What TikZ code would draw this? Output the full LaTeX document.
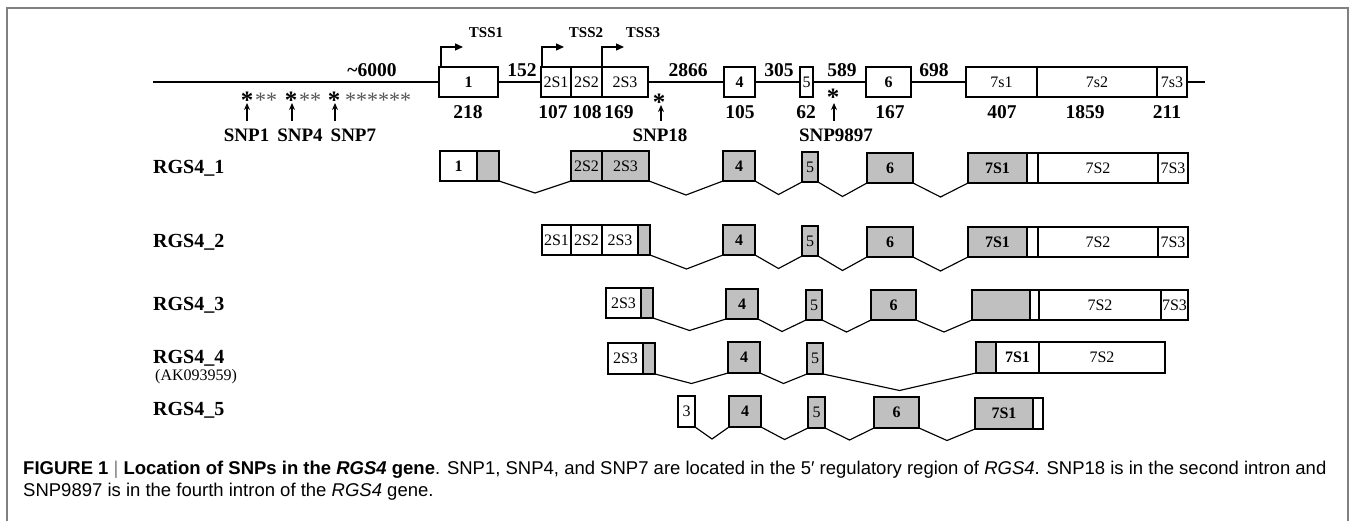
\documentclass[tikz,border=0pt]{standalone}
\usepackage{fontspec}
\setmainfont{Liberation Serif}
\newfontfamily\capfont{Liberation Sans}
\usetikzlibrary{arrows.meta,calc}
\definecolor{exgray}{RGB}{192,192,192}
\definecolor{framegray}{RGB}{128,128,128}
\definecolor{astgray}{RGB}{85,85,85}
\newcommand\ex[7]{\node[exbox,fill=#6,minimum width={#3-#2},minimum height={#5-#4}] (#1) at ({(#2+#3)/2},{(#4+#5)/2}) {#7};}
\newcommand\intr[3]{\draw[il] (#1.south east) -- ($(#1.south east)!0.5!(#2.south west)+(0,#3)$) -- (#2.south west);}
\begin{document}
\begin{tikzpicture}[x=1pt,y=-1pt,
  exbox/.style={draw,line width=1.3pt,inner sep=0pt,outer sep=0pt,font=\fontsize{16}{18}\selectfont},
  gl/.style={line width=1.3pt},
  il/.style={line width=1.15pt},
  num/.style={font=\fontsize{19.5}{22}\selectfont\bfseries,inner sep=0pt,anchor=base},
  lab/.style={font=\fontsize{20}{22}\selectfont\bfseries,inner sep=0pt,anchor=west},
  snplab/.style={font=\fontsize{19}{22}\selectfont\bfseries,inner sep=0pt},
  tsslab/.style={font=\fontsize{15}{18}\selectfont\bfseries,inner sep=0pt},
  astb/.style={font=\fontsize{25}{25}\selectfont\bfseries,inner sep=0pt,anchor=base},
  astg/.style={font=\fontsize{22}{22}\selectfont,text=astgray,inner sep=0pt,anchor=base},
  snparrow/.style={line width=1.6pt,-{Stealth[length=7pt,width=6pt]}},
  tss/.style={line width=1.3pt,-{Triangle[length=8pt,width=7pt]}},
  capt/.style={font=\capfont\fontsize{18.5}{20}\selectfont,inner sep=0pt,anchor=base west}
]
\useasboundingbox (0,0) rectangle (1356,521);
\draw[framegray,line width=1.5pt] (7,521) -- (7,8) -- (1348,8) -- (1348,521);

% ---------- gene ----------
\ex{g1}{439}{498}{67}{97}{white}{\textbf{1}}
\ex{g2a}{541}{571}{67}{97}{white}{2S1}
\ex{g2b}{571}{602}{67}{97}{white}{2S2}
\ex{g2c}{602}{648}{67}{97}{white}{2S3}
\ex{g4}{724}{755}{67}{97}{white}{\textbf{4}}
\ex{g5}{800}{813}{67}{97}{white}{5}
\ex{g6}{866}{911}{67}{97}{white}{\textbf{6}}
\ex{g7a}{966}{1037}{67}{97}{white}{7s1}
\ex{g7b}{1037}{1157}{67}{97}{white}{7s2}
\ex{g7c}{1157}{1187}{67}{97}{white}{7s3}
\coordinate (gs) at (153,82);
\coordinate (ge) at (1205,82);
\draw[gl] (gs) -- (g1.west);
\draw[gl] (g1.east) -- (g2a.west);
\draw[gl] (g2c.east) -- (g4.west);
\draw[gl] (g4.east) -- (g5.west);
\draw[gl] (g5.east) -- (g6.west);
\draw[gl] (g6.east) -- (g7a.west);
\draw[gl] (g7c.east) -- (ge);

\node[num] (n6000) at (372,77) {\textasciitilde6000};
\node[num] (n152) at (522,77) {152};
\node[num] (n2866) at (688,77) {2866};
\node[num] (n305) at (779,77) {305};
\node[num] (n589) at (842,77) {589};
\node[num] (n698) at (934,77) {698};

\node[num] (l218) at (468,119) {218};
\node[num] (l107) at (553,119) {107};
\node[num] (l108) at (587,119) {108};
\node[num] (l169) at (619,119) {169};
\node[num] (l105) at (740,119) {105};
\node[num] (l62) at (806,119) {62};
\node[num] (l167) at (890,119) {167};
\node[num] (l407) at (1002,119) {407};
\node[num] (l1859) at (1085,119) {1859};
\node[num] (l211) at (1167,119) {211};

% TSS
\draw[tss] ([xshift=2pt]g1.north west) -- ++(0,-20) -- ++(22,0);
\draw[tss] ([xshift=1pt]g2a.north west) -- ++(0,-20) -- ++(22,0);
\draw[tss] (g2c.north west) -- ++(0,-20) -- ++(22,0);
\node[tsslab] (t1) at (486,33) {TSS1};
\node[tsslab] (t2) at (586,33) {TSS2};
\node[tsslab] (t3) at (643,33) {TSS3};

% SNPs
\node[astb] (s1) at (247,109) {*};
\node[astb] (s4) at (291,109) {*};
\node[astb] (s7) at (334,109) {*};
\node[astg] (ga) at (266,108) {**};
\node[astg] (gb) at (310,108) {**};
\node[astg] (gc) at (378,108) {******};
\node[astb] (s18) at (659,111) {*};
\node[astb] (s98) at (833,106) {*};
\coordinate (a1) at (247,121);
\coordinate (a4) at (292,121);
\coordinate (a7) at (335,121);
\coordinate (a18) at (661,121);
\coordinate (a98) at (834,121);
\draw[snparrow] (a1) -- (a1 |- 0,103);
\draw[snparrow] (a4) -- (a4 |- 0,103);
\draw[snparrow] (a7) -- (a7 |- 0,103);
\draw[snparrow] (a18) -- (a18 |- 0,105);
\draw[snparrow] (a98) -- (a98 |- 0,103);
\node[snplab] (snpA) at (300,135) {SNP1\hspace{8pt}SNP4\hspace{8pt}SNP7};
\node[snplab] (snp18) at (660,135) {SNP18};
\node[snplab] (snp98) at (836,135) {SNP9897};

% ---------- transcripts ----------
\node[lab] (R1) at (153,168) {RGS4\_1};
\node[lab] (R2) at (153,242) {RGS4\_2};
\node[lab] (R3) at (153,305) {RGS4\_3};
\node[lab] (R4) at (153,358) {RGS4\_4};
\node[font=\fontsize{16}{18}\selectfont,inner sep=0pt,anchor=west] (R4b) at (155,377) {(AK093959)};
\node[lab] (R5) at (153,410) {RGS4\_5};

% row 1
\ex{a1}{440}{477}{151}{181}{white}{\textbf{1}}
\ex{a1g}{477}{499}{151}{181}{exgray}{}
\ex{a2b}{571}{602}{151}{181}{exgray}{2S2}
\ex{a2c}{602}{649}{151}{181}{exgray}{2S3}
\ex{a4}{723}{755}{151}{181}{exgray}{\textbf{4}}
\ex{a5}{802}{818}{152}{182}{exgray}{5}
\ex{a6}{867}{913}{153}{183}{exgray}{\textbf{6}}
\ex{a7a}{968}{1027}{153}{183}{exgray}{\textbf{7S1}}
\ex{a7w}{1027}{1038}{153}{183}{white}{}
\ex{a7b}{1038}{1158}{153}{183}{white}{7S2}
\ex{a7c}{1158}{1188}{153}{183}{white}{7S3}
\intr{a1g}{a2b}{12}
\intr{a2c}{a4}{14}
\intr{a4}{a5}{13}
\intr{a5}{a6}{14}
\intr{a6}{a7a}{14}

% row 2
\ex{b2a}{542}{571}{225}{255}{white}{2S1}
\ex{b2b}{571}{602}{225}{255}{white}{2S2}
\ex{b2c}{602}{638}{225}{255}{white}{2S3}
\ex{b2g}{638}{650}{225}{255}{exgray}{}
\ex{b4}{723}{755}{225}{255}{exgray}{\textbf{4}}
\ex{b5}{802}{818}{226}{256}{exgray}{5}
\ex{b6}{867}{913}{227}{257}{exgray}{\textbf{6}}
\ex{b7a}{968}{1027}{227}{257}{exgray}{\textbf{7S1}}
\ex{b7w}{1027}{1038}{227}{257}{white}{}
\ex{b7b}{1038}{1158}{227}{257}{white}{7S2}
\ex{b7c}{1158}{1188}{227}{257}{white}{7S3}
\intr{b2g}{b4}{14}
\intr{b4}{b5}{13}
\intr{b5}{b6}{14}
\intr{b6}{b7a}{14}

% row 3
\ex{c2c}{606}{641}{288}{318}{white}{2S3}
\ex{c2g}{641}{653}{288}{318}{exgray}{}
\ex{c4}{726}{758}{289}{319}{exgray}{\textbf{4}}
\ex{c5}{806}{822}{290}{320}{exgray}{5}
\ex{c6}{871}{916}{290}{320}{exgray}{\textbf{6}}
\ex{c7a}{972}{1030}{290}{320}{exgray}{}
\ex{c7w}{1030}{1039}{290}{320}{white}{}
\ex{c7b}{1039}{1161}{290}{320}{white}{7S2}
\ex{c7c}{1161}{1188}{290}{320}{white}{7S3}
\intr{c2g}{c4}{12}
\intr{c4}{c5}{12}
\intr{c5}{c6}{12}
\intr{c6}{c7a}{12}

% row 4
\ex{d2c}{608}{643}{343}{374}{white}{2S3}
\ex{d2g}{643}{655}{343}{374}{exgray}{}
\ex{d4}{728}{760}{342}{373}{exgray}{\textbf{4}}
\ex{d5}{807}{823}{343}{374}{exgray}{5}
\ex{d7g}{976}{996}{342}{373}{exgray}{}
\ex{d7a}{996}{1039}{342}{373}{white}{\textbf{7S1}}
\ex{d7b}{1039}{1165}{342}{373}{white}{7S2}
\intr{d2g}{d4}{10}
\intr{d4}{d5}{10}
\intr{d5}{d7g}{17}

% row 5
\ex{e3}{678}{695}{396}{427}{white}{3}
\ex{e4}{729}{761}{396}{427}{exgray}{\textbf{4}}
\ex{e5}{808}{825}{397}{428}{exgray}{5}
\ex{e6}{874}{919}{397}{428}{exgray}{\textbf{6}}
\ex{e7a}{975}{1033}{398}{429}{exgray}{\textbf{7S1}}
\ex{e7w}{1033}{1043}{398}{429}{white}{}
\intr{e3}{e4}{12}
\intr{e4}{e5}{12}
\intr{e5}{e6}{12}
\intr{e6}{e7a}{12}

% ---------- caption ----------
\node[capt] (cap1) at (23,474) {\textbf{FIGURE 1} {\color{gray}|} \textbf{Location of SNPs in the \textit{RGS4} gene}. SNP1, SNP4, and SNP7 are located in the 5′ regulatory region of \textit{RGS4}. SNP18 is in the second intron and};
\node[capt] (cap2) at (23,496) {SNP9897 is in the fourth intron of the \textit{RGS4} gene.};
\end{tikzpicture}
\end{document}
